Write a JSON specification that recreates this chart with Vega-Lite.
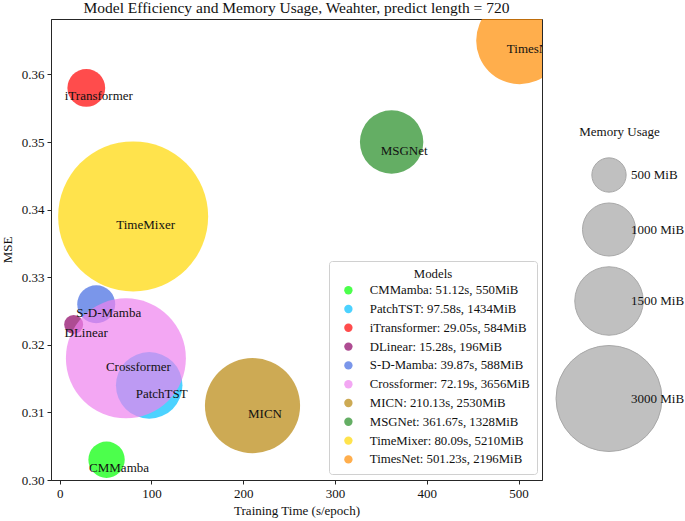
{
  "$schema": "https://vega.github.io/schema/vega-lite/v6.json",
  "width": 491,
  "height": 461,
  "autosize": {"type": "none"},
  "padding": {"left": 51, "top": 19, "right": 143, "bottom": 41},
  "background": "white",
  "title": {
    "text": "Model Efficiency and Memory Usage, Weahter, predict length = 720",
    "font": "Liberation Serif",
    "fontSize": 15.5,
    "fontWeight": "normal",
    "color": "#111111",
    "anchor": "middle",
    "baseline": "alphabetic",
    "offset": 3,
    "dy": 12
  },
  "config": {
    "view": {"stroke": "#262626", "strokeWidth": 1},
    "font": "Liberation Serif"
  },
  "data": {
    "values": [
      {"model": "CMMamba", "time": 51.12, "mse": 0.303, "memory": 550, "label": "CMMamba: 51.12s, 550MiB"},
      {"model": "PatchTST", "time": 97.58, "mse": 0.314, "memory": 1434, "label": "PatchTST: 97.58s, 1434MiB"},
      {"model": "iTransformer", "time": 29.05, "mse": 0.358, "memory": 584, "label": "iTransformer: 29.05s, 584MiB"},
      {"model": "DLinear", "time": 15.28, "mse": 0.323, "memory": 196, "label": "DLinear: 15.28s, 196MiB"},
      {"model": "S-D-Mamba", "time": 39.87, "mse": 0.326, "memory": 588, "label": "S-D-Mamba: 39.87s, 588MiB"},
      {"model": "Crossformer", "time": 72.19, "mse": 0.318, "memory": 3656, "label": "Crossformer: 72.19s, 3656MiB"},
      {"model": "MICN", "time": 210.13, "mse": 0.311, "memory": 2530, "label": "MICN: 210.13s, 2530MiB"},
      {"model": "MSGNet", "time": 361.67, "mse": 0.35, "memory": 1328, "label": "MSGNet: 361.67s, 1328MiB"},
      {"model": "TimeMixer", "time": 80.09, "mse": 0.339, "memory": 5210, "label": "TimeMixer: 80.09s, 5210MiB"},
      {"model": "TimesNet", "time": 501.23, "mse": 0.365, "memory": 2196, "label": "TimesNet: 501.23s, 2196MiB"}
    ]
  },
  "encoding": {
    "x": {
      "field": "time",
      "type": "quantitative",
      "scale": {"domain": [-9.4, 525.5], "nice": false, "zero": false},
      "axis": {
        "title": "Training Time (s/epoch)",
        "values": [0, 100, 200, 300, 400, 500],
        "grid": false,
        "tickSize": 4,
        "tickColor": "#262626",
        "domainColor": "#262626",
        "labelFont": "Liberation Serif",
        "labelFontSize": 13,
        "labelColor": "#111111",
        "labelFlush": false,
        "labelPadding": 3,
        "titleFont": "Liberation Serif",
        "titleFontSize": 13,
        "titleFontWeight": "normal",
        "titleColor": "#111111",
        "titlePadding": 4
      }
    },
    "y": {
      "field": "mse",
      "type": "quantitative",
      "scale": {"domain": [0.3, 0.3682], "nice": false, "zero": false},
      "axis": {
        "title": "MSE",
        "values": [0.3, 0.31, 0.32, 0.33, 0.34, 0.35, 0.36],
        "format": ".2f",
        "grid": false,
        "tickSize": 4,
        "tickColor": "#262626",
        "domainColor": "#262626",
        "labelFont": "Liberation Serif",
        "labelFontSize": 13,
        "labelColor": "#111111",
        "labelFlush": false,
        "labelPadding": 3,
        "titleFont": "Liberation Serif",
        "titleFontSize": 13,
        "titleFontWeight": "normal",
        "titleColor": "#111111",
        "titlePadding": 7
      }
    }
  },
  "layer": [
    {
      "mark": {"type": "circle", "opacity": 0.7, "clip": true},
      "encoding": {
        "size": {
          "field": "memory",
          "type": "quantitative",
          "scale": {"type": "pow", "exponent": 1.26, "domain": [0, 5210], "range": [0, 22500]},
          "legend": {
            "title": "Memory Usage",
            "values": [500, 1000, 1500, 3000],
            "labelExpr": "datum.value + ' MiB'",
            "orient": "none",
            "legendX": 504.5,
            "legendY": 107,
            "symbolType": "circle",
            "symbolFillColor": "#c0c0c0",
            "symbolStrokeColor": "#a8a8a8",
            "symbolStrokeWidth": 1,
            "symbolOpacity": 1,
            "labelOffset": -31.5,
            "rowPadding": 5,
            "padding": 0,
            "titleAnchor": "middle",
            "titlePadding": 18,
            "labelFont": "Liberation Serif",
            "labelFontSize": 13,
            "labelColor": "#111111",
            "titleFont": "Liberation Serif",
            "titleFontSize": 13,
            "titleFontWeight": "normal",
            "titleColor": "#111111",
            "encode": {"symbols": {"update": {"opacity": {"value": 1}, "fill": {"value": "#c0c0c0"}, "stroke": {"value": "#a8a8a8"}}}}
          }
        },
        "color": {
          "field": "label",
          "type": "nominal",
          "scale": {
            "domain": [
              "CMMamba: 51.12s, 550MiB",
              "PatchTST: 97.58s, 1434MiB",
              "iTransformer: 29.05s, 584MiB",
              "DLinear: 15.28s, 196MiB",
              "S-D-Mamba: 39.87s, 588MiB",
              "Crossformer: 72.19s, 3656MiB",
              "MICN: 210.13s, 2530MiB",
              "MSGNet: 361.67s, 1328MiB",
              "TimeMixer: 80.09s, 5210MiB",
              "TimesNet: 501.23s, 2196MiB"
            ],
            "range": ["#00ff00", "#00bfff", "#ff0000", "#8b0064", "#4169e1", "#ee82ee", "#b8860b", "#228b22", "#ffd700", "#ff8c00"]
          },
          "legend": {
            "title": "Models",
            "orient": "none",
            "legendX": 278,
            "legendY": 242,
            "fillColor": "white",
            "strokeColor": "#d0d0d0",
            "cornerRadius": 3,
            "padding": 7,
            "symbolType": "circle",
            "symbolSize": 70,
            "symbolOffset": 6,
            "labelOffset": 15,
            "rowPadding": 4.8,
            "titleAnchor": "middle",
            "titlePadding": 3,
            "labelFont": "Liberation Serif",
            "labelFontSize": 12.8,
            "labelColor": "#111111",
            "labelLimit": 300,
            "titleFont": "Liberation Serif",
            "titleFontSize": 12.8,
            "titleFontWeight": "normal",
            "titleColor": "#111111"
          }
        }
      }
    },
    {
      "mark": {"type": "text", "clip": true, "dx": 12.5, "dy": 8.5, "align": "center", "baseline": "middle", "font": "Liberation Serif", "fontSize": 13, "color": "#111111"},
      "encoding": {"text": {"field": "model", "type": "nominal"}}
    }
  ]
}
